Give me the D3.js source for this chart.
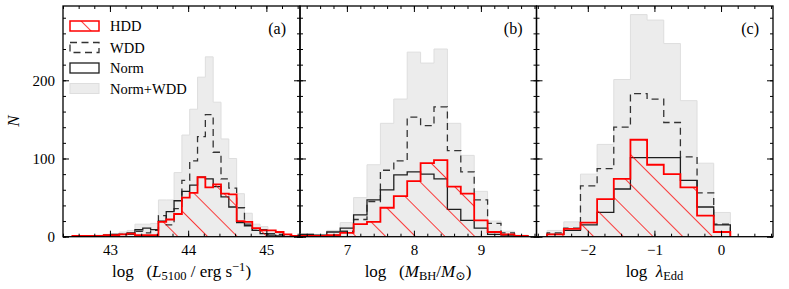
<!DOCTYPE html>
<html>
<head>
<meta charset="utf-8">
<script src="https://cdn.jsdelivr.net/npm/d3@7"></script>
<style>
body { margin: 0; background: #fff; }
text { font-family: "Liberation Serif", "DejaVu Serif", serif; fill: #000; white-space: pre; }
</style>
</head>
<body>
<div id="chart"></div>
<script>
// ---- panel (a): log L5100 ----
const edgesL = [42.52, 42.62, 42.72, 42.82, 42.92, 43.02, 43.12, 43.22, 43.32, 43.42, 43.52, 43.62, 43.72, 43.82, 43.92,
                44.02, 44.12, 44.22, 44.32, 44.42, 44.52, 44.62, 44.72, 44.82, 44.92, 45.02, 45.12, 45.22, 45.32, 45.42];
const sumL  = [0, 0, 1, 2, 3, 4, 6, 8, 16, 16, 17, 47, 47, 82, 130, 163, 204, 230, 172, 125, 100, 55, 30, 16, 13, 6, 4, 2, 1];
const normL = [0, 0, 0, 1, 2, 3, 3, 5, 9, 11, 9, 20, 32, 46, 58, 66, 76, 74, 64, 51, 38, 18, 14, 8, 4, 2, 1, 0, 0];
const wddL  = [0, 0, 1, 1, 1, 1, 3, 3, 7, 5, 8, 27, 15, 36, 72, 97, 128, 156, 108, 74, 62, 37, 16, 8, 9, 4, 3, 2, 1];
const hddL  = [1, 1, 1, 1, 2, 2, 3, 4, 2, 2, 2, 19, 22, 29, 50, 56, 76, 63, 67, 55, 54, 20, 19, 11, 8, 8, 6, 3, 1];

// ---- panel (b): log MBH ----
const edgesM = [6.3, 6.5, 6.7, 6.9, 7.1, 7.3, 7.5, 7.7, 7.9, 8.1, 8.3, 8.5, 8.7, 8.9, 9.1, 9.3, 9.5, 9.7];
const sumM  = [4, 3, 8, 18, 50, 92, 145, 176, 236, 222, 240, 145, 104, 58, 20, 7, 2];
const normM = [3, 2, 6, 11, 28, 47, 60, 79, 83, 80, 74, 35, 21, 11, 3, 2, 1];
const wddM  = [1, 1, 2, 7, 22, 45, 85, 97, 153, 142, 166, 110, 83, 47, 17, 5, 1];
const hddM  = [1, 1, 2, 5, 16, 19, 37, 52, 71, 94, 98, 64, 55, 21, 6, 3, 1];

// ---- panel (c): log lambda_Edd ----
const edgesE = [-2.61, -2.36, -2.11, -1.86, -1.61, -1.36, -1.11, -0.86, -0.61, -0.36, -0.11, 0.14];
const sumE  = [8, 19, 80, 118, 201, 284, 277, 247, 174, 94, 31];
const normE = [3, 8, 15, 31, 61, 101, 101, 101, 72, 38, 15];
const wddE  = [5, 11, 65, 87, 140, 183, 176, 146, 102, 56, 16];
const hddE  = [3, 10, 18, 48, 74, 124, 92, 80, 63, 27, 6];

const xTicksL = [43, 44, 45];
const xTicksM = [7, 8, 9];
const xTicksE = [-2, -1, 0];
const yTicks = [0, 100, 200];
const legendLabels = ["HDD", "WDD", "Norm", "Norm+WDD"];
const panelTags = ["(a)", "(b)", "(c)"];

const W = 789, H = 289;
const yTop = 6, yBot = 236.7;
const red = "#ff0000", grayFill = "#ececec", grayEdge = "#dedede";

const svg = d3.select("#chart").append("svg").attr("width", W).attr("height", H);
const defs = svg.append("defs");

const hatch = defs.append("pattern").attr("id", "hatch")
    .attr("patternUnits", "userSpaceOnUse").attr("width", 21).attr("height", 21)
    .attr("patternTransform", "rotate(-45)");
hatch.append("line").attr("x1", 0).attr("y1", -1).attr("x2", 0).attr("y2", 22)
    .attr("stroke", red).attr("stroke-width", 1.5);

const y = d3.scaleLinear().domain([0, 295]).range([yBot, yTop]);

const panels = [
  { x0: 63, x1: 300, domain: [42.4, 45.43], edges: edgesL, sum: sumL, norm: normL, wdd: wddL, hdd: hddL, ticks: xTicksL, minor: 0.2 },
  { x0: 300, x1: 536.5, domain: [6.3, 9.83], edges: edgesM, sum: sumM, norm: normM, wdd: wddM, hdd: hddM, ticks: xTicksM, minor: 0.2 },
  { x0: 536.5, x1: 773, domain: [-2.77, 0.78], edges: edgesE, sum: sumE, norm: normE, wdd: wddE, hdd: hddE, ticks: xTicksE, minor: 0.25 }
];

function stepPoints(edges, counts) {
  const pts = [[edges[0], 0]];
  counts.forEach((c, i) => { pts.push([edges[i], c]); pts.push([edges[i + 1], c]); });
  pts.push([edges[edges.length - 1], 0]);
  return pts;
}

const yMinor = d3.range(0, 295, 20);

panels.forEach((p, k) => {
  const x = d3.scaleLinear().domain(p.domain).range([p.x0, p.x1]);
  const line = d3.line().x(d => x(d[0])).y(d => y(d[1]));

  defs.append("clipPath").attr("id", "clip" + k)
    .append("rect").attr("x", p.x0).attr("y", yTop).attr("width", p.x1 - p.x0).attr("height", yBot - yTop);

  const g = svg.append("g").attr("clip-path", "url(#clip" + k + ")");
  g.append("path").attr("d", line(stepPoints(p.edges, p.sum)) + "Z")
    .attr("fill", grayFill).attr("stroke", grayEdge).attr("stroke-width", 1);
  g.append("path").attr("d", line(stepPoints(p.edges, p.wdd)))
    .attr("fill", "none").attr("stroke", "#333").attr("stroke-width", 1.3).attr("stroke-dasharray", "7,4.5");
  g.append("path").attr("d", line(stepPoints(p.edges, p.norm)))
    .attr("fill", "none").attr("stroke", "#1e1e1e").attr("stroke-width", 1.3);
  g.append("path").attr("d", line(stepPoints(p.edges, p.hdd)) + "Z")
    .attr("fill", "url(#hatch)").attr("stroke", "none");
  g.append("path").attr("d", line(stepPoints(p.edges, p.hdd)))
    .attr("fill", "none").attr("stroke", red).attr("stroke-width", 1.8);

  const xMinor = d3.range(Math.ceil(p.domain[0] / p.minor) * p.minor, p.domain[1], p.minor);

  const axes = svg.append("g").attr("class", "axes");
  const fmt = d3.format("d");
  // bottom
  axes.append("g").attr("transform", `translate(0,${yBot})`)
    .call(d3.axisBottom(x).tickValues(xMinor).tickSize(-3).tickFormat(""));
  axes.append("g").attr("transform", `translate(0,${yBot})`)
    .call(d3.axisBottom(x).tickValues(p.ticks).tickSize(-6).tickPadding(8).tickFormat(fmt));
  // top
  axes.append("g").attr("transform", `translate(0,${yTop})`)
    .call(d3.axisTop(x).tickValues(xMinor).tickSize(-3).tickFormat(""));
  axes.append("g").attr("transform", `translate(0,${yTop})`)
    .call(d3.axisTop(x).tickValues(p.ticks).tickSize(-6).tickFormat(""));
  // left
  axes.append("g").attr("transform", `translate(${p.x0},0)`)
    .call(d3.axisLeft(y).tickValues(yMinor).tickSize(-3).tickFormat(""));
  axes.append("g").attr("transform", `translate(${p.x0},0)`)
    .call(d3.axisLeft(y).tickValues(yTicks).tickSize(-6).tickPadding(8).tickFormat(k === 0 ? fmt : ""));
  // right
  axes.append("g").attr("transform", `translate(${p.x1},0)`)
    .call(d3.axisRight(y).tickValues(yMinor).tickSize(-3).tickFormat(""));
  axes.append("g").attr("transform", `translate(${p.x1},0)`)
    .call(d3.axisRight(y).tickValues(yTicks).tickSize(-6).tickFormat(""));

  axes.selectAll(".domain").remove();
  axes.selectAll(".tick line").attr("stroke", "#000").attr("stroke-width", 1);
  axes.selectAll(".tick text").attr("font-size", 15).attr("font-family", "Liberation Serif").attr("fill", "#000");

  svg.append("rect").attr("x", p.x0).attr("y", yTop).attr("width", p.x1 - p.x0).attr("height", yBot - yTop)
    .attr("fill", "none").attr("stroke", "#000").attr("stroke-width", 1.3);

  svg.append("text").attr("x", p.x1 - 14).attr("y", 34).attr("text-anchor", "end")
    .attr("font-size", 16).text(panelTags[k]);
});

// y label
svg.append("text").attr("transform", "translate(19,121) rotate(-90)").attr("text-anchor", "middle")
  .attr("font-size", 17).attr("font-style", "italic").text("N");

// x labels
const xl1 = svg.append("text").attr("x", 181.5).attr("y", 277).attr("text-anchor", "middle").attr("font-size", 17);
xl1.append("tspan").text("log   (");
xl1.append("tspan").attr("font-style", "italic").text("L");
xl1.append("tspan").attr("font-size", 12.5).attr("dy", 3).text("5100");
xl1.append("tspan").attr("dy", -3).text(" / erg s");
xl1.append("tspan").attr("font-size", 12.5).attr("dy", -6).text("−1");
xl1.append("tspan").attr("dy", 6).text(")");

const xl2 = svg.append("text").attr("x", 418).attr("y", 277).attr("text-anchor", "middle").attr("font-size", 17);
xl2.append("tspan").text("log   (");
xl2.append("tspan").attr("font-style", "italic").text("M");
xl2.append("tspan").attr("font-size", 12.5).attr("dy", 3).text("BH");
xl2.append("tspan").attr("dy", -3).text("/");
xl2.append("tspan").attr("font-style", "italic").text("M");
xl2.append("tspan").attr("font-size", 12.5).attr("dy", 3).text("⊙");
xl2.append("tspan").attr("dy", -3).text(")");

const xl3 = svg.append("text").attr("x", 654.5).attr("y", 277).attr("text-anchor", "middle").attr("font-size", 17);
xl3.append("tspan").text("log  ");
xl3.append("tspan").attr("font-style", "italic").text("λ");
xl3.append("tspan").attr("font-size", 12.5).attr("dy", 3).text("Edd");

// legend
const lg = svg.append("g");
const rowY = [26, 47.5, 68, 88.5];
const px = 70, pw = 29, ph = 10;
lg.append("rect").attr("x", px).attr("y", rowY[0] - ph / 2).attr("width", pw).attr("height", ph)
  .attr("fill", "url(#hatch)").attr("stroke", red).attr("stroke-width", 1.5);
lg.append("rect").attr("x", px).attr("y", rowY[1] - ph / 2).attr("width", pw).attr("height", ph)
  .attr("fill", "none").attr("stroke", "#333").attr("stroke-width", 1.3).attr("stroke-dasharray", "7,4.5");
lg.append("rect").attr("x", px).attr("y", rowY[2] - ph / 2).attr("width", pw).attr("height", ph)
  .attr("fill", "none").attr("stroke", "#1e1e1e").attr("stroke-width", 1.3);
lg.append("rect").attr("x", px).attr("y", rowY[3] - ph / 2).attr("width", pw).attr("height", ph)
  .attr("fill", grayFill).attr("stroke", grayEdge);
legendLabels.forEach((t, i) => {
  lg.append("text").attr("x", 110).attr("y", rowY[i] + 5).attr("font-size", 14.5).text(t);
});
</script>
</body>
</html>
